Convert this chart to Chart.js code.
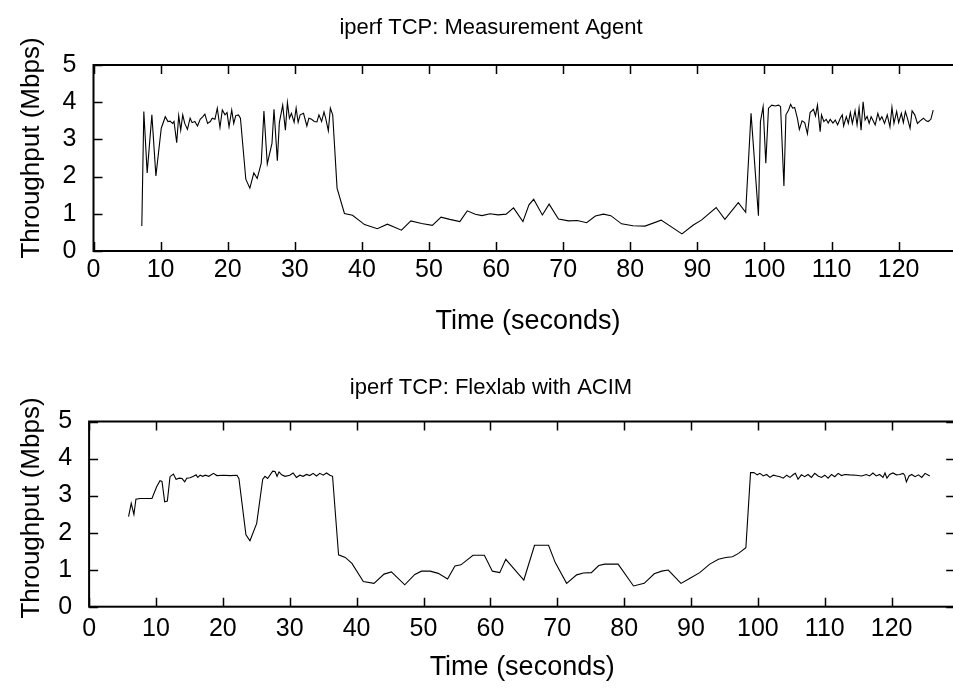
<!DOCTYPE html>
<html>
<head>
<meta charset="utf-8">
<script src="https://cdn.jsdelivr.net/npm/chart.js@4.4.1/dist/chart.umd.min.js"></script>
<style>
    body { margin: 0; background: #fff; }
    #wrap { position: relative; width: 953px; height: 692px; overflow: hidden; background: #fff; }
    .plot { position: absolute; left: 0; width: 1000px; height: 346px; }
</style>
</head>
<body>
<div id="wrap">
    <div class="plot" style="top:0"><canvas id="chart-agent" width="1000" height="346"></canvas></div>
    <div class="plot" style="top:346px"><canvas id="chart-flexlab" width="1000" height="346"></canvas></div>
</div>
<script>
// tick labels
var xTicks = [0, 10, 20, 30, 40, 50, 60, 70, 80, 90, 100, 110, 120];
var yTicks = [0, 1, 2, 3, 4, 5];

// iperf TCP: Measurement Agent (seconds, Mbps)
var agentTime = [
    7.2, 7.5, 8.0, 8.7, 9.3, 10.1, 10.7, 11.1, 11.4, 11.8, 12.0, 12.4, 12.7, 13.0, 13.3, 13.6,
    14.0, 14.4, 14.7, 15.1, 15.5, 15.9, 16.3, 16.6, 17.0, 17.4, 17.7, 18.1, 18.45, 18.85, 19.2,
    19.6, 19.9, 20.2, 20.6, 20.9, 21.2, 21.6, 21.9, 22.7, 23.3, 23.9, 24.4, 25.0, 25.4, 25.9,
    26.6, 26.9, 27.4, 27.7, 28.2, 28.6, 28.9, 29.2, 29.5, 29.9, 30.2, 30.5, 30.8, 31.3, 31.8,
    32.1, 32.5, 32.9, 33.3, 33.6, 34.0, 34.35, 34.6, 35.0, 35.3, 35.65, 36.3, 37.4, 38.6, 40.4,
    42.3, 43.8, 45.9, 47.3, 48.9, 50.5, 51.8, 53.1, 54.6, 55.7, 56.9, 57.9, 59.1, 60.3, 61.5,
    62.6, 64.0, 64.9, 65.6, 66.9, 67.9, 69.3, 70.8, 72.1, 73.5, 74.8, 76.0, 77.1, 78.7, 80.4,
    82.2, 84.6, 87.7, 89.4, 90.6, 92.8, 94.1, 96.1, 97.2, 98.0, 99.1, 99.4, 99.8, 100.2, 100.6,
    101.1, 101.6, 102.1, 102.4, 102.9, 103.2, 103.6, 103.9, 104.2, 104.5, 104.9, 105.2, 105.6,
    106.0, 106.4, 106.8, 107.3, 107.6, 107.9, 108.3, 108.5, 108.85, 109.2, 109.5, 109.8, 110.2,
    110.55, 110.9, 111.3, 111.6, 111.8, 112.2, 112.5, 112.8, 113.1, 113.5, 113.8, 114.1, 114.4,
    114.7, 115.0, 115.3, 115.6, 115.9, 116.2, 116.5, 116.9, 117.2, 117.5, 117.9, 118.3, 118.7,
    119.0, 119.3, 119.7, 120.0, 120.4, 120.7, 121.0, 121.3, 121.7, 122.0, 122.4, 122.8, 123.2,
    123.7, 124.1, 124.4, 124.8, 125.15
];
var agentMbps = [
    0.67, 3.75, 2.10, 3.66, 2.02, 3.30, 3.61, 3.48, 3.49, 3.43, 3.48, 2.91, 3.64, 3.25, 3.66, 3.43,
    3.27, 3.57, 3.45, 3.48, 3.36, 3.54, 3.61, 3.68, 3.43, 3.48, 3.57, 3.54, 3.84, 3.32, 3.79,
    3.66, 3.72, 3.34, 3.79, 3.43, 3.64, 3.66, 3.57, 1.93, 1.69, 2.10, 1.95, 2.36, 3.76, 2.34,
    2.89, 3.81, 2.43, 3.45, 3.92, 3.25, 3.99, 3.57, 3.70, 3.46, 3.84, 3.46, 3.66, 3.70, 3.36,
    3.57, 3.54, 3.48, 3.47, 3.66, 3.48, 3.74, 3.57, 3.23, 3.84, 3.66, 1.69, 1.01, 0.96, 0.71,
    0.60, 0.72, 0.56, 0.81, 0.74, 0.69, 0.91, 0.85, 0.79, 1.08, 0.99, 0.95, 1.00, 0.97, 0.99,
    1.16, 0.79, 1.24, 1.39, 0.97, 1.26, 0.86, 0.81, 0.82, 0.76, 0.94, 0.99, 0.95, 0.73, 0.68,
    0.67, 0.83, 0.46, 0.70, 0.83, 1.17, 0.85, 1.30, 1.04, 3.70, 0.95, 3.48, 3.88, 2.36, 3.84,
    3.92, 3.90, 3.92, 3.88, 1.75, 3.66, 3.79, 3.94, 3.84, 3.86, 3.57, 3.27, 3.50,
    3.45, 3.15, 3.72, 3.81, 3.63, 3.92, 3.21, 3.66, 3.48, 3.54, 3.44, 3.54, 3.44,
    3.52, 3.39, 3.57, 3.66, 3.36, 3.61, 3.43, 3.72, 3.43, 3.77, 3.39, 3.84, 3.25,
    4.01, 3.52, 3.62, 3.43, 3.61, 3.50, 3.39, 3.70, 3.52, 3.61, 3.43, 3.66, 3.34,
    3.86, 3.43, 3.75, 3.45, 3.70, 3.45, 3.75, 3.57, 3.30, 3.77, 3.66, 3.43, 3.50,
    3.57, 3.50, 3.48, 3.54, 3.79
];

// iperf TCP: Flexlab with ACIM (seconds, Mbps)
var flexTime = [
    5.9, 6.3, 6.7, 7.0, 7.6, 9.4, 10.1, 10.6, 10.9, 11.3, 11.7, 12.1, 12.6, 13.0, 13.5, 13.9,
    14.3, 14.6, 15.1, 15.6, 16.0, 16.25, 16.6, 17.0, 17.4, 17.9, 18.6, 19.1, 20.1, 21.1, 22.1,
    22.4, 23.45, 24.05, 25.06, 25.96, 26.3, 26.7, 27.45, 27.8, 28.1, 28.4, 28.8, 29.3, 30.0,
    30.5, 31.0, 31.5, 32.0, 32.5, 33.0, 33.5, 34.0, 34.5, 35.0, 35.5, 36.0, 36.4, 37.3, 38.3,
    39.3, 41.0, 42.6, 44.1, 45.2, 47.2, 48.7, 49.7, 51.0, 52.2, 53.6, 54.7, 55.6, 57.4, 59.1,
    60.3, 61.4, 62.3, 63.7, 65.0, 66.6, 68.7, 69.7, 71.4, 72.9, 73.9, 75.1, 76.2, 77.1, 79.1,
    81.4, 83.0, 84.5, 85.6, 86.6, 88.5, 89.85, 91.3, 92.8, 94.1, 95.2, 96.2, 97.1, 98.2, 98.9,
    99.4, 99.9, 100.3, 100.8, 101.3, 101.8, 102.3, 102.8, 103.3, 103.8, 104.3, 104.8, 105.3,
    105.6, 106.0, 106.5, 107.0, 107.5, 108.0, 108.5, 109.0, 109.5, 110.0, 110.5, 111.0, 111.5,
    112.0, 112.5, 113.0, 113.7, 114.7, 115.5, 116.2, 116.7, 117.2, 117.7, 118.2, 118.7, 119.0,
    119.3, 119.7, 120.2, 120.7, 121.2, 121.7, 121.95, 122.2, 122.6, 123.0, 123.5, 124.0, 124.5,
    125.0, 125.7
];
var flexMbps = [
    2.43, 2.79, 2.49, 2.90, 2.92, 2.92, 3.24, 3.40, 3.38, 2.83, 2.85, 3.51, 3.58, 3.44, 3.47, 3.46,
    3.37, 3.47, 3.48, 3.52, 3.56, 3.49, 3.55, 3.52, 3.55, 3.52, 3.60, 3.54, 3.55, 3.54, 3.55,
    3.46, 1.94, 1.78, 2.25, 3.44, 3.52, 3.46, 3.66, 3.65, 3.52, 3.64, 3.56, 3.52, 3.55,
    3.61, 3.49, 3.55, 3.52, 3.57, 3.54, 3.60, 3.53, 3.60, 3.55, 3.61, 3.55, 3.52, 1.40, 1.33,
    1.17, 0.68, 0.63, 0.88, 0.94, 0.59, 0.87, 0.96, 0.96, 0.90, 0.75, 1.10, 1.13, 1.39, 1.39,
    0.96, 0.92, 1.28, 0.99, 0.72, 1.66, 1.66, 1.19, 0.63, 0.86, 0.91, 0.92, 1.11, 1.15, 1.15,
    0.56, 0.63, 0.89, 0.96, 0.99, 0.63, 0.77, 0.92, 1.15, 1.28, 1.33, 1.35, 1.44, 1.59, 3.62,
    3.62, 3.56, 3.60, 3.53, 3.57, 3.49, 3.55, 3.53, 3.51, 3.47, 3.55, 3.49, 3.57,
    3.60, 3.44, 3.56, 3.51, 3.57, 3.49, 3.60, 3.53, 3.49, 3.55, 3.47, 3.57, 3.51,
    3.60, 3.54, 3.57, 3.56, 3.55, 3.53, 3.57, 3.53, 3.61, 3.53, 3.57, 3.49, 3.61,
    3.47, 3.57, 3.61, 3.56, 3.57, 3.60, 3.55, 3.37, 3.53, 3.57, 3.51, 3.56, 3.49,
    3.60, 3.53
];

var FONT = "'Liberation Sans', Arial, Helvetica, sans-serif";

function toPoints(xs, ys) {
    var pts = [];
    for (var i = 0; i < xs.length; i++) {
        pts.push({x: xs[i], y: ys[i]});
    }
    return pts;
}

// gnuplot style frame: border all round, ticks pointing inwards, mirrored
var framePlugin = {
    id: 'frame',
    afterDraw: function (chart, args, opts) {
        var ctx = chart.ctx;
        var a = chart.chartArea;
        var sx = chart.scales.x, sy = chart.scales.y;
        var len = 9;
        ctx.save();
        ctx.strokeStyle = '#000';
        ctx.lineWidth = 1.5;
        ctx.beginPath();
        for (var i = 0; i < xTicks.length; i++) {
            var px = Math.round(sx.getPixelForValue(xTicks[i])) + 0.5;
            ctx.moveTo(px, a.bottom);
            ctx.lineTo(px, a.bottom - len);
            ctx.moveTo(px, a.top);
            ctx.lineTo(px, a.top + len);
        }
        for (var j = 0; j < yTicks.length; j++) {
            var py = Math.round(sy.getPixelForValue(yTicks[j])) + 0.5;
            ctx.moveTo(a.left, py);
            ctx.lineTo(a.left + len, py);
            ctx.moveTo(a.right, py);
            ctx.lineTo(a.right - len, py);
        }
        ctx.stroke();
        ctx.lineWidth = 2;
        ctx.strokeRect(a.left, a.top, a.right - a.left, a.bottom - a.top);

        ctx.fillStyle = '#000';
        ctx.textAlign = 'center';
        ctx.textBaseline = 'middle';
        // plot title
        ctx.font = '22px ' + FONT;
        ctx.fillText(opts.text, opts.x, opts.y);
        // y axis label
        ctx.font = '26px ' + FONT;
        ctx.translate(opts.yLabelX, opts.yLabelY);
        ctx.rotate(-Math.PI / 2);
        ctx.fillText('Throughput (Mbps)', 0, 0);
        ctx.restore();
    }
};

function makeChart(id, xs, ys, box) {
    return new Chart(document.getElementById(id), {
        type: 'line',
        data: {
            datasets: [{
                data: toPoints(xs, ys),
                borderColor: '#000',
                borderWidth: 1.1,
                pointRadius: 0,
                tension: 0,
                fill: false
            }]
        },
        options: {
            responsive: false,
            animation: false,
            events: [],
            layout: {
                padding: {top: box.top, right: 1000 - box.right, bottom: 0, left: 0}
            },
            plugins: {
                legend: {display: false},
                tooltip: {enabled: false},
                frame: {
                    text: box.title, x: 491, y: box.titleY,
                    yLabelX: 32, yLabelY: box.yLabelY
                }
            },
            scales: {
                x: {
                    type: 'linear',
                    min: 0,
                    max: 129.5,
                    grid: {display: false, drawTicks: false},
                    border: {display: false},
                    afterBuildTicks: function (scale) {
                        scale.ticks = xTicks.map(function (v) { return {value: v}; });
                    },
                    afterFit: function (scale) {
                        scale.height = box.xHeight;
                    },
                    ticks: {
                        color: '#000',
                        padding: box.xTickPad,
                        maxRotation: 0,
                        autoSkip: false,
                        font: {family: FONT, size: 25}
                    },
                    title: {
                        display: true,
                        text: 'Time (seconds)',
                        color: '#000',
                        padding: {top: 0, bottom: 8},
                        font: {family: FONT, size: 27}
                    }
                },
                y: {
                    type: 'linear',
                    min: 0,
                    max: 5,
                    grid: {display: false, drawTicks: false},
                    border: {display: false},
                    afterBuildTicks: function (scale) {
                        scale.ticks = yTicks.map(function (v) { return {value: v}; });
                    },
                    afterFit: function (scale) {
                        scale.width = box.left;
                    },
                    ticks: {
                        color: '#000',
                        padding: 17,
                        font: {family: FONT, size: 25}
                    }
                }
            }
        },
        plugins: [framePlugin]
    });
}

makeChart('chart-agent', agentTime, agentMbps, {
    title: 'iperf TCP: Measurement Agent', titleY: 28, yLabelY: 148,
    top: 65, left: 93.5, right: 962.4, xHeight: 95, xTickPad: 4
});
makeChart('chart-flexlab', flexTime, flexMbps, {
    title: 'iperf TCP: Flexlab with ACIM', titleY: 42, yLabelY: 162,
    top: 75.5, left: 89.1, right: 955.2, xHeight: 85.3, xTickPad: 7
});
</script>
</body>
</html>
